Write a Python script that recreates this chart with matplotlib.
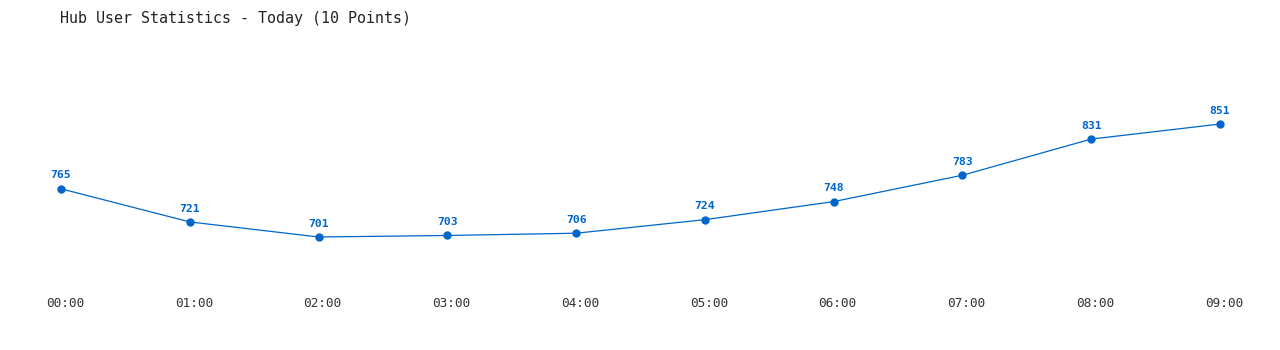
import matplotlib
matplotlib.use("Agg")
import matplotlib.pyplot as plt
import matplotlib.transforms as mtransforms

hours = ["00:00", "01:00", "02:00", "03:00", "04:00", "05:00", "06:00", "07:00", "08:00", "09:00"]
users = [765, 721, 701, 703, 706, 724, 748, 783, 831, 851]
title = "Hub User Statistics - Today (10 Points)"

W, H = 1280, 350
fig = plt.figure(figsize=(W / 100, H / 100), dpi=100)
left, right, top, bottom = 61, 1220, 50, 290
ax = fig.add_axes([left / W, 1 - bottom / H, (right - left) / W, (bottom - top) / H])
color = "#0066cc"
x = list(range(len(users)))
ax.plot(x, users, color=color, lw=0.9, marker="o", ms=5, clip_on=False)
for xi, v in zip(x, users):
    ax.annotate(str(v), (xi, v), xytext=(0, 6), textcoords="offset points",
                ha="center", va="bottom", fontsize=8.2, fontweight="bold",
                color=color, family="DejaVu Sans Mono")
ax.set_xlim(0, 9)
ax.set_ylim(630.6, 949.3)
ax.set_xticks(x)
ax.set_xticklabels(hours, family="DejaVu Sans Mono", fontsize=9.2, color="#333333")
ax.tick_params(axis="x", length=0, pad=5)
offset = mtransforms.ScaledTranslation(4 / 100, 0, fig.dpi_scale_trans)
for lbl in ax.get_xticklabels():
    lbl.set_transform(lbl.get_transform() + offset)
ax.set_yticks([])
for s in ax.spines.values():
    s.set_visible(False)
fig.text(60 / W, 1 - 18 / H, title, ha="left", va="center", fontsize=10.8,
         family="DejaVu Sans Mono", color="#222222")
fig.savefig("out.png", dpi=100)
